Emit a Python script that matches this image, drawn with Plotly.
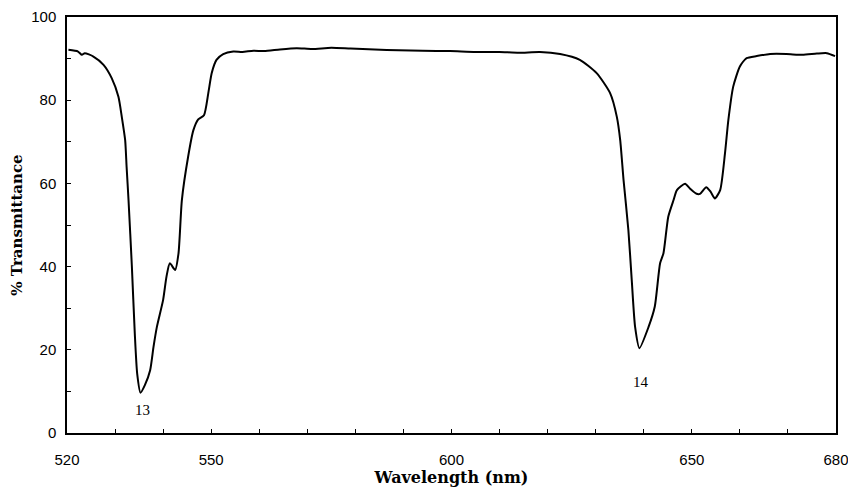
import plotly.graph_objects as go

# Spectrum
wavelength = [520.3, 522.3, 523.1, 523.7, 525.5, 527.6, 529.3, 530.7, 531.4, 532.1, 532.4, 532.8,
              533.5, 534.1, 534.6, 535.3, 536.2, 537.3, 538.0, 538.7, 540.0, 540.7, 541.4, 542.5,
              543.2, 543.9, 545.2, 546.3, 547.3, 548.5, 549.4, 550.1, 551.1, 552.5, 554.6, 556.5,
              558.8, 561.0, 564.3, 567.8, 571.0, 575.0, 579.0, 584.0, 589.0, 594.0, 599.7, 605.0,
              610.0, 614.0, 618.4, 622.6, 626.7, 630.2, 633.0, 634.4, 635.1, 635.8, 636.8, 637.5,
              638.2, 639.1, 641.0, 642.3, 643.4, 644.1, 645.1, 646.2, 646.9, 648.6, 649.6, 651.0,
              651.7, 653.0, 653.9, 654.8, 655.9, 656.9, 657.6, 658.6, 660.0, 661.4, 663.5, 666.3,
              669.7, 673.0, 676.0, 678.1, 679.8]
transmittance = [92.1, 91.7, 90.9, 91.3, 90.5, 88.5, 85.3, 80.8, 76.0, 70.4, 64.0, 56.0,
                 40.0, 24.0, 14.3, 9.7, 11.5, 15.1, 20.7, 25.5, 32.0, 37.6, 40.8, 39.2,
                 43.2, 56.0, 66.4, 72.8, 75.4, 76.4, 81.7, 86.5, 89.7, 91.1, 91.7, 91.6,
                 91.9, 91.8, 92.2, 92.5, 92.3, 92.6, 92.4, 92.2, 92.0, 91.9, 91.8, 91.6,
                 91.6, 91.4, 91.6, 91.1, 89.7, 86.5, 81.7, 76.0, 70.4, 60.8, 48.8, 36.8,
                 25.5, 20.4, 25.5, 30.4, 40.8, 43.2, 52.0, 56.0, 58.4, 59.9, 58.8, 57.5,
                 57.5, 59.1, 58.0, 56.4, 58.4, 67.2, 75.2, 83.2, 88.1, 90.1, 90.6, 91.1,
                 91.1, 90.9, 91.2, 91.3, 90.6]

x_tick_vals = list(range(520, 681, 10))
x_tick_text = ["520", "", "", "550", "", "", "", "", "600", "", "", "", "", "650", "", "", "680"]
y_tick_vals = list(range(0, 101, 10))
y_tick_text = ["0", "", "20", "", "40", "", "60", "", "80", "", "100"]

peak_labels = ["13", "14"]
peak_x = [535.8, 639.4]
peak_y = [5.5, 12.3]

fig = go.Figure()
fig.add_trace(go.Scatter(x=wavelength, y=transmittance, mode="lines",
                         line=dict(color="black", width=2, shape="spline", smoothing=0.6),
                         showlegend=False, hoverinfo="skip"))

for t, xv, yv in zip(peak_labels, peak_x, peak_y):
    fig.add_annotation(x=xv, y=yv, text=t, showarrow=False,
                       font=dict(family="Liberation Serif", size=15, color="black"))

fig.update_layout(
    width=842, height=479,
    margin=dict(l=59, r=14, t=9, b=54),
    paper_bgcolor="white", plot_bgcolor="white",
    xaxis=dict(range=[520, 680], tickmode="array", tickvals=x_tick_vals, ticktext=x_tick_text,
               ticks="inside", ticklen=4, tickwidth=1.2, tickcolor="black",
               showline=True, linecolor="black", linewidth=1.5, mirror=True,
               showgrid=False, zeroline=False, ticklabelstandoff=12, automargin=False,
               ticklabeloverflow="allow",
               tickfont=dict(family="Liberation Sans", size=15, color="black"),
               title=dict(text="<b>Wavelength (nm)</b>", standoff=6,
                          font=dict(family="DejaVu Serif", size=16, color="black"))),
    yaxis=dict(range=[0, 100], tickmode="array", tickvals=y_tick_vals, ticktext=y_tick_text,
               ticks="inside", ticklen=4, tickwidth=1.2, tickcolor="black",
               showline=True, linecolor="black", linewidth=1.5, mirror=True,
               showgrid=False, zeroline=False, ticklabelstandoff=6, automargin=False,
               tickfont=dict(family="Liberation Sans", size=15, color="black"),
               title=dict(text="<b>% Transmittance</b>", standoff=6,
                          font=dict(family="DejaVu Serif", size=15, color="black"))),
)

fig.write_html("out.html")
